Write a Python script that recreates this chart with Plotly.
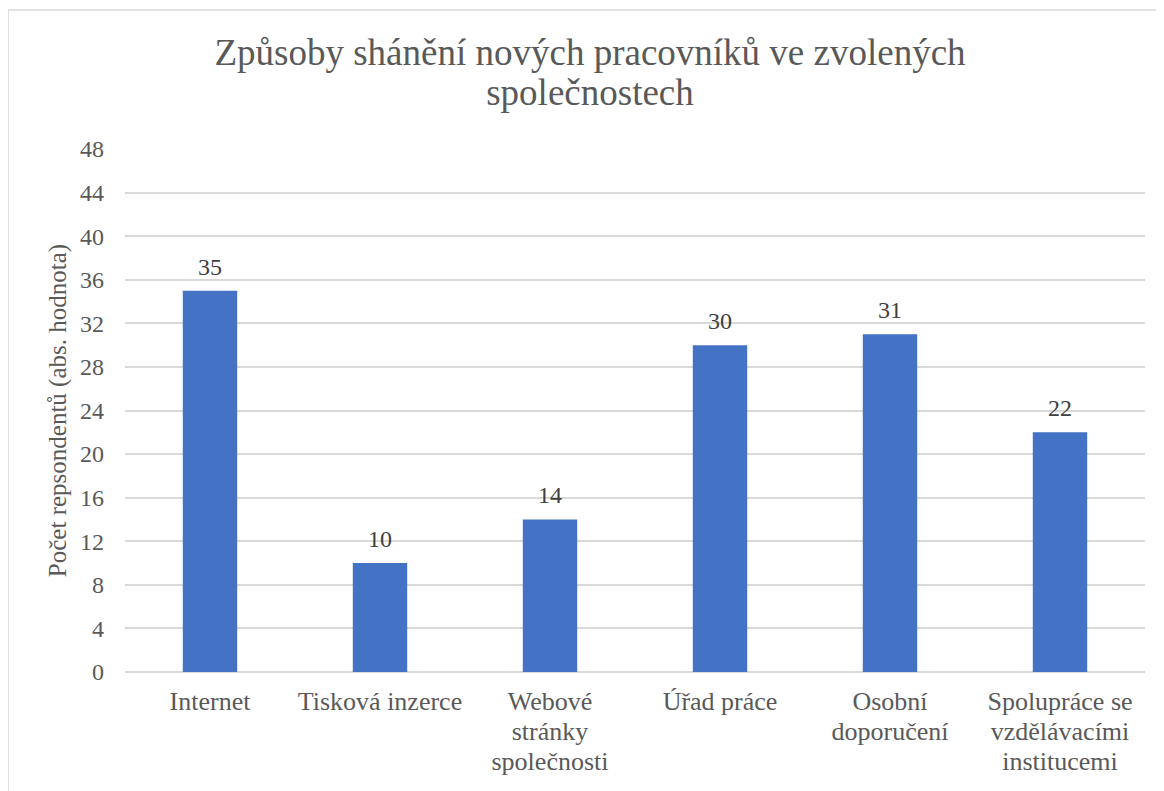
import plotly.graph_objects as go

categories = ["Internet", "Tisková inzerce", "Webové<br>stránky<br>společnosti",
              "Úřad práce", "Osobní<br>doporučení", "Spolupráce se<br>vzdělávacími<br>institucemi"]
values = [35, 10, 14, 30, 31, 22]
tick_vals = list(range(0, 49, 4))
title_lines = ["Způsoby shánění nových pracovníků ve zvolených", "společnostech"]
y_title = "Počet repsondentů (abs. hodnota)"

# page has an 8px body margin; figure box = 1164x791 shifted by 8px
W, H = 1164, 791
L, R, T, B = 117, 27, 141, 127
pw, ph = W - L - R, H - T - B

font = "Liberation Serif, Times New Roman, serif"
grey = "#595959"


def sized(text, px):
    return "<br>".join(f'<span style="font-size:{px}px">{p}</span>' for p in text.split("<br>"))


fig = go.Figure(go.Bar(
    x=categories, y=values,
    marker=dict(color="#4472C4", line=dict(width=0)),
    width=0.32,
))

for c, v in zip(categories, values):
    fig.add_annotation(x=c, y=v, text=str(v), showarrow=False,
                       yanchor="bottom", yshift=9,
                       font=dict(family=font, size=24, color="#404040"))

fig.update_layout(
    width=W, height=H,
    margin=dict(l=L, r=R, t=T, b=B),
    paper_bgcolor="white", plot_bgcolor="white",
    title=dict(text="<br>".join(f'<span style="font-size:37px">{t}</span>' for t in title_lines),
               x=582 / W, xanchor="center", y=1 - 57 / H, yanchor="middle",
               font=dict(family=font, size=31, color=grey)),
    font=dict(family=font, color=grey),
    showlegend=False,
)
fig.update_xaxes(
    tickmode="array", tickvals=categories,
    ticktext=[sized(c, 26) for c in categories],
    tickfont=dict(family=font, size=23, color=grey),
    showgrid=False, showline=False, ticks="", ticklabelstandoff=14,
)
fig.update_yaxes(
    range=[0, 48], tickvals=tick_vals,
    tickfont=dict(family=font, size=24, color=grey),
    gridcolor="#D9D9D9", gridwidth=1.5,
    zeroline=True, zerolinecolor="#D9D9D9", zerolinewidth=1.5,
    showline=False, ticks="", ticklabelstandoff=20,
    title=dict(text=y_title, font=dict(family=font, size=25, color=grey), standoff=6),
)
fig.add_shape(type="rect", xref="paper", yref="paper",
              x0=(0 - L) / pw, x1=(1175 - L) / pw,
              y0=(H - B - 800) / ph, y1=(H - B - 2) / ph,
              line=dict(color="#D9D9D9", width=1.5), fillcolor="rgba(0,0,0,0)",
              layer="below")

fig.write_html("out.html")
